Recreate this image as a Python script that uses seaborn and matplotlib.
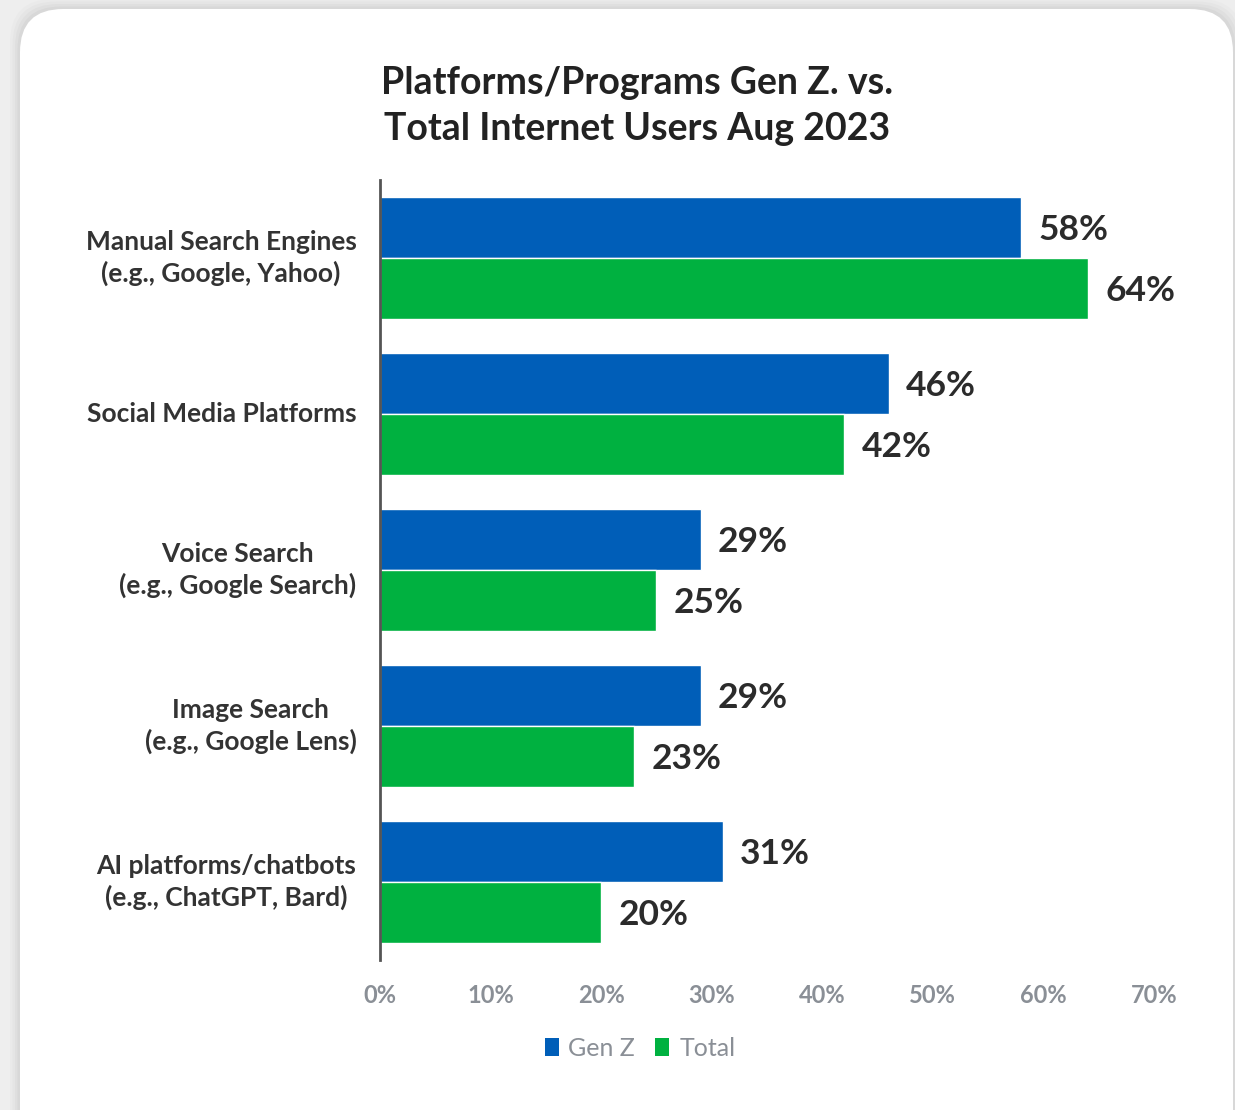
import matplotlib
matplotlib.use("Agg")
import matplotlib.pyplot as plt
import seaborn as sns
import pandas as pd
from matplotlib.patches import FancyBboxPatch, Patch

categories = [
    "Manual Search Engines\n(e.g., Google, Yahoo)",
    "Social Media Platforms",
    "Voice Search\n(e.g., Google Search)",
    "Image Search\n(e.g., Google Lens)",
    "AI platforms/chatbots\n(e.g., ChatGPT, Bard)",
]
gen_z = [58, 46, 29, 29, 31]
total = [64, 42, 25, 23, 20]
series = ["Gen Z", "Total"]
colors = ["#005EB8", "#00B140"]
xticks = [0, 10, 20, 30, 40, 50, 60, 70]

rows = []
for c, g, t in zip(categories, gen_z, total):
    rows.append({"category": c, "series": "Gen Z", "value": g})
    rows.append({"category": c, "series": "Total", "value": t})
df = pd.DataFrame(rows)

sns.set_theme(style="white")
plt.rcParams["font.family"] = ["Lato", "DejaVu Sans"]

W, H = 1235, 1110
fig = plt.figure(figsize=(W / 100, H / 100), dpi=100)
fig.patch.set_facecolor("#eeeeee")

# card shadow + card
for i, a in enumerate([0.015, 0.02, 0.025, 0.03]):
    pad = (4 - i) * 2.5
    fig.patches.append(FancyBboxPatch(
        ((20 - pad) / W, (-60) / H), (1213 + 2 * pad) / W, (1161 + pad) / H,
        boxstyle="round,pad=0,rounding_size=0.035", transform=fig.transFigure,
        facecolor="#000000", edgecolor="none", alpha=a, zorder=-3,
        mutation_aspect=W / H))
fig.patches.append(FancyBboxPatch(
    (20 / W, -60 / H), 1213 / W, (1161) / H,
    boxstyle="round,pad=0,rounding_size=0.035", transform=fig.transFigure,
    facecolor="white", edgecolor="none", zorder=-2, mutation_aspect=W / H))

ax = fig.add_axes([380 / W, 1 - 960 / H, 774 / W, 780 / H])
ax.set_zorder(2)
ax.set_facecolor("none")
sns.barplot(data=df, y="category", x="value", hue="series", orient="h",
            palette=colors, width=0.78, saturation=1, ax=ax, legend=False,
            order=categories, hue_order=series)

ax.set_xlim(0, 70)
ax.set_ylim(4.5, -0.5)
ax.set_xticks(xticks)
ax.set_xticklabels([f"{t}%" for t in xticks], fontsize=17, color="#8a8f96",
                   fontweight="bold")
ax.tick_params(axis="x", length=0, pad=17)
ax.tick_params(axis="y", length=0, pad=17)
for lab in ax.get_yticklabels():
    lab.set_fontsize(19)
    lab.set_fontweight("bold")
    lab.set_color("#333333")
    lab.set_multialignment("center")
    lab.set_linespacing(1.3)
    lab.set_verticalalignment("center")
ax.set_xlabel("")
ax.set_ylabel("")
for s in ["top", "right", "bottom"]:
    ax.spines[s].set_visible(False)
ax.spines["left"].set_color("#555555")
ax.spines["left"].set_linewidth(2)

for cont in ax.containers:
    anns = ax.bar_label(cont, labels=[f"{v:.0f}%" for v in cont.datavalues],
                        padding=12.5, fontsize=25.5, fontweight="bold", color="#2b2b2b")
    for a in anns:
        x0, y0 = a.xyann
        a.xyann = (x0, y0 - 2)

fig.text(637 / W, 1 - 106 / H, "Platforms/Programs Gen Z. vs.\nTotal Internet Users Aug 2023",
         ha="center", va="center", fontsize=27, fontweight="bold",
         color="#222222", linespacing=1.45, zorder=5)

handles = [Patch(facecolor=c, edgecolor="none") for c in colors]
leg = fig.legend(handles, series, loc="center", bbox_to_anchor=(640 / W, 1 - 1048 / H),
                 ncol=2, frameon=False, fontsize=18, handlelength=0.55,
                 handleheight=0.75, handletextpad=0.4, columnspacing=0.8)
for t in leg.get_texts():
    t.set_color("#8a8f96")

fig.savefig("out.png", dpi=100, facecolor=fig.get_facecolor())
